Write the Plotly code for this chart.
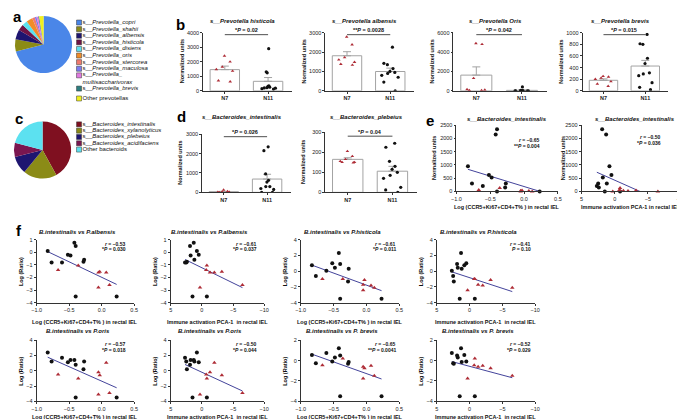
import numpy as np
import plotly.graph_objects as go

W, H = 685, 419
FONT = "Liberation Sans Narrow, Arial Narrow, Liberation Sans, Arial, sans-serif"
RED = "#AE2C36"
BLACK = "#111111"
GREY = "#A3A3A3"
LINE_BLUE = "#2E2E8F"
AX = "#333333"

# ---------------- data ----------------
prev_species = ["s__Prevotella_copri", "s__Prevotella_shahii", "s__Prevotella_albensis",
                "s__Prevotella_histicola", "s__Prevotella_disiens", "s__Prevotella_oris",
                "s__Prevotella_stercorea", "s__Prevotella_maculosa",
                "s__Prevotella_multisaccharivorax", "s__Prevotella_brevis", "Other prevotellas"]
prev_share = [71, 7, 5.5, 3.5, 3, 3.5, 1.5, 1, 1, 0.5, 2.5]

bact_species = ["s__Bacteroides_intestinalis", "s__Bacteroides_xylanolyticus",
                "s__Bacteroides_plebeius", "s__Bacteroides_acidifaciens", "Other bacteroids"]
bact_share = [42, 19, 10, 8, 21]

groups = ["N7", "N11"]

histicola_n7 = [2400, 2000, 1650, 1470, 1360, 700, 630]
histicola_n11 = [2900, 1310, 1240, 340, 300, 250, 220, 200, 180, 150, 120]
albensis_n7 = [2780, 2380, 1720, 1600, 1480, 1380, 1330]
albensis_n11 = [2250, 1420, 1350, 1150, 1000, 950, 900, 800, 700, 450, 0]
oris_n7 = [4900, 4800, 1300, 150, 100, 60, 40]
oris_n11 = [400, 50, 30, 20, 10, 10, 5, 5, 0, 0, 0]
brevis_n7 = [250, 240, 220, 200, 160, 120, 80]
brevis_n11 = [970, 810, 800, 560, 470, 310, 290, 260, 140, 60, 20]
bint_n7 = [50, 130, 20, 30, 10, 0, 0]
bint_n11 = [950, 300, 200, 620, 530, 2150, 2350, 0, 150, 300, 0]
plebeius_n7 = [205, 180, 165, 155, 150, 148, 150]
plebeius_n11 = [245, 225, 155, 130, 115, 100, 85, 70, 25, 12, 0]

ccr5_n7 = [-0.67, -0.36, -0.05, -0.03, 0.07, -0.05, 0.12]
ccr5_n11 = [-0.83, -0.77, -0.61, -0.52, -0.48, -0.42, -0.40, -0.40, -0.28, -0.27, 0.23]
pca_n7 = [-0.7, -0.8, -1.3, -3.2, -2.0, 0.3, -6.5]
pca_n11 = [0.8, 2.5, 2.7, 0.5, 1.8, 1.3, 1.9, 1.5, 2.4, 1.2, -0.8]

albensis_ratio_n7 = [-1.4, -1.05, -1.6, -1.55, -1.6, -2.8, -2.6]
albensis_ratio_n11 = [0.1, -0.8, -0.8, -0.2, -0.25, 0.75, 0.5, -3.5, -0.75, -0.6, -3.5]
histicola_ratio_n7 = [-1.0, -1.0, -1.7, -1.1, -1.8, -2.4, -2.1]
histicola_ratio_n11 = [0.75, -0.6, 0.05, 1.0, 0.45, 2.3, 0.9, -3.5, -1.3, 0.3, -3.5]
oris_ratio_n7 = [-0.5, -1.0, -0.2, -0.6, 1.05, -3.1, -2.9]
oris_ratio_n11 = [2.4, 1.2, 1.7, 1.1, 1.4, 1.4, 0.8, -3.5, 0.2, 1.2, -3.5]
brevis_ratio_n7 = [-0.45, 0.2, -0.6, -0.75, -0.5, -1.75, -1.5]
brevis_ratio_n11 = [0.55, -0.25, 0.75, -0.1, 0.3, 1.2, 0.5, -3.5, -0.3, -0.15, -3.5]

# ---------------- styles ----------------
prev_colors = ["#4A86E8", "#8B8B16", "#1E1570", "#6E1446", "#5CE1F0", "#F08C28",
               "#F07A6E", "#7B7BF0", "#E07AE0", "#2E7E80", "#F0F020"]
bact_colors = ["#7F1020", "#8B8B16", "#1E1570", "#7A1650", "#5CE1F0"]

fig = go.Figure()
layout = {}
annotations = []
shapes = []
n_axes = [0]


def X(px):
    return px / W


def Y(py):
    return 1 - py / H


def new_axes(xd, yd, xopts, yopts):
    n_axes[0] += 1
    n = n_axes[0]
    sfx = '' if n == 1 else str(n)
    base = dict(showgrid=False, zeroline=False, showline=True, linecolor=AX, linewidth=0.8,
                ticks='outside', ticklen=2, tickwidth=0.8, tickcolor=AX,
                tickfont=dict(family=FONT, size=5.5, color='#222'), fixedrange=True)
    xa = dict(base, domain=[X(xd[0]), X(xd[1])], anchor='y' + sfx)
    xa.update(xopts)
    ya = dict(base, domain=[Y(yd[1]), Y(yd[0])], anchor='x' + sfx)
    ya.update(yopts)
    layout['xaxis' + sfx] = xa
    layout['yaxis' + sfx] = ya
    return 'x' + sfx, 'y' + sfx


def text(x, y, s, size=6, xanchor='center', yanchor='middle', angle=0, color='#111'):
    annotations.append(dict(x=X(x), y=Y(y), xref='paper', yref='paper', text=s, showarrow=False,
                            xanchor=xanchor, yanchor=yanchor, textangle=angle, borderpad=0,
                            font=dict(family=FONT, size=size, color=color)))


# ---------------- pies + legends ----------------
def pie_block(labels, values, colors, cx, cy, r):
    fig.add_trace(go.Pie(labels=labels, values=values, sort=False, direction='clockwise', rotation=0,
                         marker=dict(colors=colors, line=dict(width=0)), textinfo='none',
                         hoverinfo='skip', showlegend=False,
                         domain=dict(x=[X(cx - r), X(cx + r)], y=[Y(cy + r), Y(cy - r)])))


def legend_block(labels, colors, slots, text_slots, top, pitch, nmax):
    bottom = top + (nmax + 0.5) * pitch
    xr, yr = new_axes((60, 200), (top, bottom),
                      dict(visible=False, range=[-1.17, 22.17]),
                      dict(visible=False, range=[nmax, -0.5]))
    fig.add_trace(go.Scatter(x=[0] * len(labels), y=slots, mode='markers', xaxis=xr, yaxis=yr,
                             marker=dict(symbol='square', size=5, color=colors,
                                         line=dict(color='#333', width=0.5)),
                             hoverinfo='skip', cliponaxis=False))
    txt = []
    for lab in labels:
        if lab.startswith('s__'):
            name = lab[3:]
            if 'multisaccharivorax' in name:
                txt.append('s__<i>Prevotella_</i><br><i>multisaccharivorax</i>')
            else:
                txt.append('s__<i>' + name + '</i>')
        else:
            txt.append(lab)
    fig.add_trace(go.Scatter(x=[0.6] * len(labels), y=text_slots, mode='text', text=txt,
                             textposition='middle right', xaxis=xr, yaxis=yr,
                             textfont=dict(family=FONT, size=6, color='#111'),
                             hoverinfo='skip', cliponaxis=False))


pie_block(prev_species, prev_share, prev_colors, 31, 34, 29)
pie_block(bact_species, bact_share, bact_colors, 30, 141, 29)

prev_slots = [0, 1, 2, 3, 4, 5, 6, 7, 8, 10, 11.5]
prev_text_slots = [0, 1, 2, 3, 4, 5, 6, 7, 8.5, 10, 11.5]
legend_block(prev_species, prev_colors, prev_slots, prev_text_slots, 8.35, 6.7, 12)
legend_block(bact_species, bact_colors, [0, 1, 2, 3, 4], [0, 1, 2, 3, 4], 111.8, 6.4, 4.5)


# ---------------- bar panels ----------------
def bar_panel(xd, yd, n7, n11, ymax, dtick, title, ptxt, title_y, ptext_y, pline_y):
    xr, yr = new_axes(xd, yd,
                      dict(range=[-0.5, 1.55], tickvals=[0, 1],
                           ticktext=['<b>' + g + '</b>' for g in groups]),
                      dict(range=[0, ymax], dtick=dtick, tick0=0))
    means = [float(np.mean(n7)), float(np.mean(n11))]
    sems = [float(np.std(v, ddof=1) / np.sqrt(len(v))) for v in (n7, n11)]
    fig.add_trace(go.Bar(x=[0, 1], y=means, width=0.68, xaxis=xr, yaxis=yr,
                         marker=dict(color='white', line=dict(color=GREY, width=1)),
                         error_y=dict(type='data', symmetric=False, array=sems, arrayminus=[0, 0],
                                      color=GREY, thickness=1, width=4),
                         hoverinfo='skip'))
    for vals, pos, sym, col in ((n7, 0, 'triangle-up', RED), (n11, 1, 'circle', BLACK)):
        fig.add_trace(go.Box(y=vals, x0=pos, width=0.6, boxpoints='all', jitter=0.8, pointpos=0,
                             fillcolor='rgba(0,0,0,0)', line=dict(color='rgba(0,0,0,0)', width=0),
                             marker=dict(symbol=sym, size=3.2, color=col),
                             xaxis=xr, yaxis=yr, hoverinfo='skip'))
    cx = (xd[0] + xd[1]) / 2 - 5
    text(cx, title_y, '<b><i>' + title + '</i></b>', size=6)
    # significance bracket between the two groups
    shapes.append(dict(type='line', xref=xr, yref='paper', x0=0, x1=1, y0=Y(pline_y), y1=Y(pline_y),
                       line=dict(color='#222', width=0.8)))
    x0px = xd[0] + (0 + 0.5) / 2.05 * (xd[1] - xd[0])
    x1px = xd[0] + (1 + 0.5) / 2.05 * (xd[1] - xd[0])
    text((x0px + x1px) / 2, ptext_y, '<b>' + ptxt + '</b>', size=5.5)
    text(xd[0] - 22, (yd[0] + yd[1]) / 2, '<b>Normalized units</b>', size=5.5, angle=-90)


bar_panel((193, 283), (22, 81), histicola_n7, histicola_n11, 4000, 1000,
          's__Prevotella histicola', '*<i>P</i> = 0.02', 10, 19.5, 24)
bar_panel((317, 407), (22, 81), albensis_n7, albensis_n11, 3000, 1000,
          's__Prevotella albensis', '**<i>P</i> = 0.0028', 10, 19.5, 24)
bar_panel((447, 542), (22, 81), oris_n7, oris_n11, 6000, 2000,
          's__Prevotella Oris', '*<i>P</i> = 0.042', 10, 19.5, 24)
bar_panel((578, 665), (22, 81), brevis_n7, brevis_n11, 1000, 200,
          's__Prevotella brevis', '*<i>P</i> = 0.015', 10, 19.5, 24)
bar_panel((192, 282), (125, 184), bint_n7, bint_n11, 3000, 1000,
          's__Bacteroides_intestinalis', '*<i>P</i> = 0.026', 108, 123, 127.5)
bar_panel((317, 410), (123, 184), plebeius_n7, plebeius_n11, 300, 100,
          's__Bacteroides_plebeius', '*<i>P</i> = 0.04', 108, 122.5, 127)


# ---------------- scatter panels ----------------
def scatter_panel(xd, yd, xs7, ys7, xs11, ys11, xkind, yrange, ydtick, title, rtxt, ptxt,
                  ytitle, xtitle, title_y, xtitle_y, rp_right, rp_y, ytitle_dx=-16, title_dx=-8):
    if xkind == 'ccr5':
        xopts = dict(range=[-1.0, 0.5], tickvals=[-1.0, -0.5, 0, 0.5], tickformat='.1f')
    else:
        xopts = dict(range=[5, -10], tickvals=[5, 0, -5, -10])
    yopts = dict(range=yrange, dtick=ydtick, tick0=0)
    xr, yr = new_axes(xd, yd, xopts, yopts)
    allx = np.array(list(xs7) + list(xs11), dtype=float)
    ally = np.array(list(ys7) + list(ys11), dtype=float)
    k, b = np.polyfit(allx, ally, 1)
    lx = np.array([allx.min(), allx.max()])
    fig.add_trace(go.Scatter(x=lx, y=k * lx + b, mode='lines', xaxis=xr, yaxis=yr,
                             line=dict(color=LINE_BLUE, width=0.9), hoverinfo='skip'))
    fig.add_trace(go.Scatter(x=xs11, y=ys11, mode='markers', xaxis=xr, yaxis=yr, cliponaxis=False,
                             marker=dict(symbol='circle', size=4, color=BLACK), hoverinfo='skip'))
    fig.add_trace(go.Scatter(x=xs7, y=ys7, mode='markers', xaxis=xr, yaxis=yr, cliponaxis=False,
                             marker=dict(symbol='triangle-up', size=4, color=RED), hoverinfo='skip'))
    text((xd[0] + xd[1]) / 2 + title_dx, title_y, '<b><i>' + title + '</i></b>', size=6)
    text(rp_right, rp_y, '<b><i>r</i> = ' + rtxt + '</b>', size=5, xanchor='right')
    text(rp_right, rp_y + 5.5, '<b>' + ptxt + '</b>', size=5, xanchor='right')
    text(xd[0] + ytitle_dx, (yd[0] + yd[1]) / 2, '<b>' + ytitle + '</b>', size=5.5, angle=-90)
    text((xd[0] + xd[1]) / 2, xtitle_y, '<b>' + xtitle + '</b>', size=5.5)


CCR5_T = 'Log (CCR5+Ki67+CD4+T% ) in rectal IEL'
PCA_T = 'Immune activation PCA-1  in rectal IEL'

# panel e
scatter_panel((450, 553), (116, 183), ccr5_n7, bint_n7, ccr5_n11, bint_n11, 'ccr5', [0, 2500], 500,
              's__Bacteroides_intestinalis', '\u22120.65', '**<i>P</i> = 0.004',
              'Normalized units', CCR5_T, 110, 199, 536, 131, ytitle_dx=-22, title_dx=0)
scatter_panel((577, 678), (116, 183), pca_n7, bint_n7, pca_n11, bint_n11, 'pca', [0, 2500], 500,
              's__Bacteroides_intestinalis', '\u22120.50', '*<i>P</i> = 0.036',
              'Normalized units', 'Immune activation PCA-1 in rectal IEL', 110, 199, 659, 128,
              ytitle_dx=-18, title_dx=4)

# panel f
R1 = dict(yd=(232, 296), title_y=224, xtitle_y=316, rp_y=236)
R2 = dict(yd=(334, 396), title_y=325, xtitle_y=411.5, rp_y=338)
FX = [(24, 123), (160, 255), (292, 392), (430, 530)]

scatter_panel(FX[0], R1['yd'], ccr5_n7, albensis_ratio_n7, ccr5_n11, albensis_ratio_n11, 'ccr5',
              [-4, 1], 1, 'B.intestinalis vs P.albensis', '\u22120.53', '*<i>P</i> = 0.030',
              'Log (Ratio)', CCR5_T, R1['title_y'], R1['xtitle_y'], 116, R1['rp_y'])
scatter_panel(FX[1], R1['yd'], pca_n7, albensis_ratio_n7, pca_n11, albensis_ratio_n11, 'pca',
              [-4, 1], 1, 'B.intestinalis vs P.albensis', '\u22120.61', '*<i>P</i> = 0.037',
              'Log (Ratio)', PCA_T, R1['title_y'], R1['xtitle_y'], 249, R1['rp_y'])
scatter_panel(FX[2], R1['yd'], ccr5_n7, histicola_ratio_n7, ccr5_n11, histicola_ratio_n11, 'ccr5',
              [-4, 4], 2, 'B.intestinalis vs P.histicola', '\u22120.61', '*<i>P</i> = 0.011',
              'Log (Ratio)', CCR5_T, R1['title_y'], R1['xtitle_y'], 390, R1['rp_y'])
scatter_panel(FX[3], R1['yd'], pca_n7, histicola_ratio_n7, pca_n11, histicola_ratio_n11, 'pca',
              [-4, 4], 2, 'B.intestinalis vs P.histicola', '\u22120.41', '<i>P</i> = 0.10',
              'Log (Ratio)', PCA_T, R1['title_y'], R1['xtitle_y'], 527, R1['rp_y'])

scatter_panel(FX[0], R2['yd'], ccr5_n7, oris_ratio_n7, ccr5_n11, oris_ratio_n11, 'ccr5',
              [-4, 4], 2, 'B.intestinalis vs P.oris', '\u22120.57', '*<i>P</i> = 0.018',
              'Log (Ratio)', CCR5_T, R2['title_y'], R2['xtitle_y'], 116, R2['rp_y'])
scatter_panel(FX[1], R2['yd'], pca_n7, oris_ratio_n7, pca_n11, oris_ratio_n11, 'pca',
              [-4, 4], 2, 'B.intestinalis vs P.oris', '\u22120.50', '*<i>P</i> = 0.044',
              'Log (Ratio)', PCA_T, R2['title_y'], R2['xtitle_y'], 249, R2['rp_y'])
scatter_panel(FX[2], R2['yd'], ccr5_n7, brevis_ratio_n7, ccr5_n11, brevis_ratio_n11, 'ccr5',
              [-4, 2], 2, 'B.intestinalis vs P. brevis', '\u22120.65', '**<i>P</i> = 0.0041',
              'Log (Ratio)', CCR5_T, R2['title_y'], R2['xtitle_y'], 390, R2['rp_y'])
scatter_panel(FX[3], R2['yd'], pca_n7, brevis_ratio_n7, pca_n11, brevis_ratio_n11, 'pca',
              [-4, 2], 2, 'B.intestinalis vs P. brevis', '\u22120.52', '*<i>P</i> = 0.029',
              'Log (Ratio)', PCA_T, R2['title_y'], R2['xtitle_y'], 527, R2['rp_y'])

# panel letters
for lab, x, y in (('a', 5, 6), ('b', 170, 14), ('c', 6, 109), ('d', 171, 107), ('e', 423, 111), ('f', 6, 223)):
    text(x, y, '<b>' + lab + '</b>', size=15, color='#000')

fig.update_layout(width=W, height=H, margin=dict(l=0, r=0, t=0, b=0), paper_bgcolor='white',
                  plot_bgcolor='rgba(0,0,0,0)', showlegend=False, annotations=annotations,
                  shapes=shapes, font=dict(family=FONT), **layout)
fig.write_html("out.html")
